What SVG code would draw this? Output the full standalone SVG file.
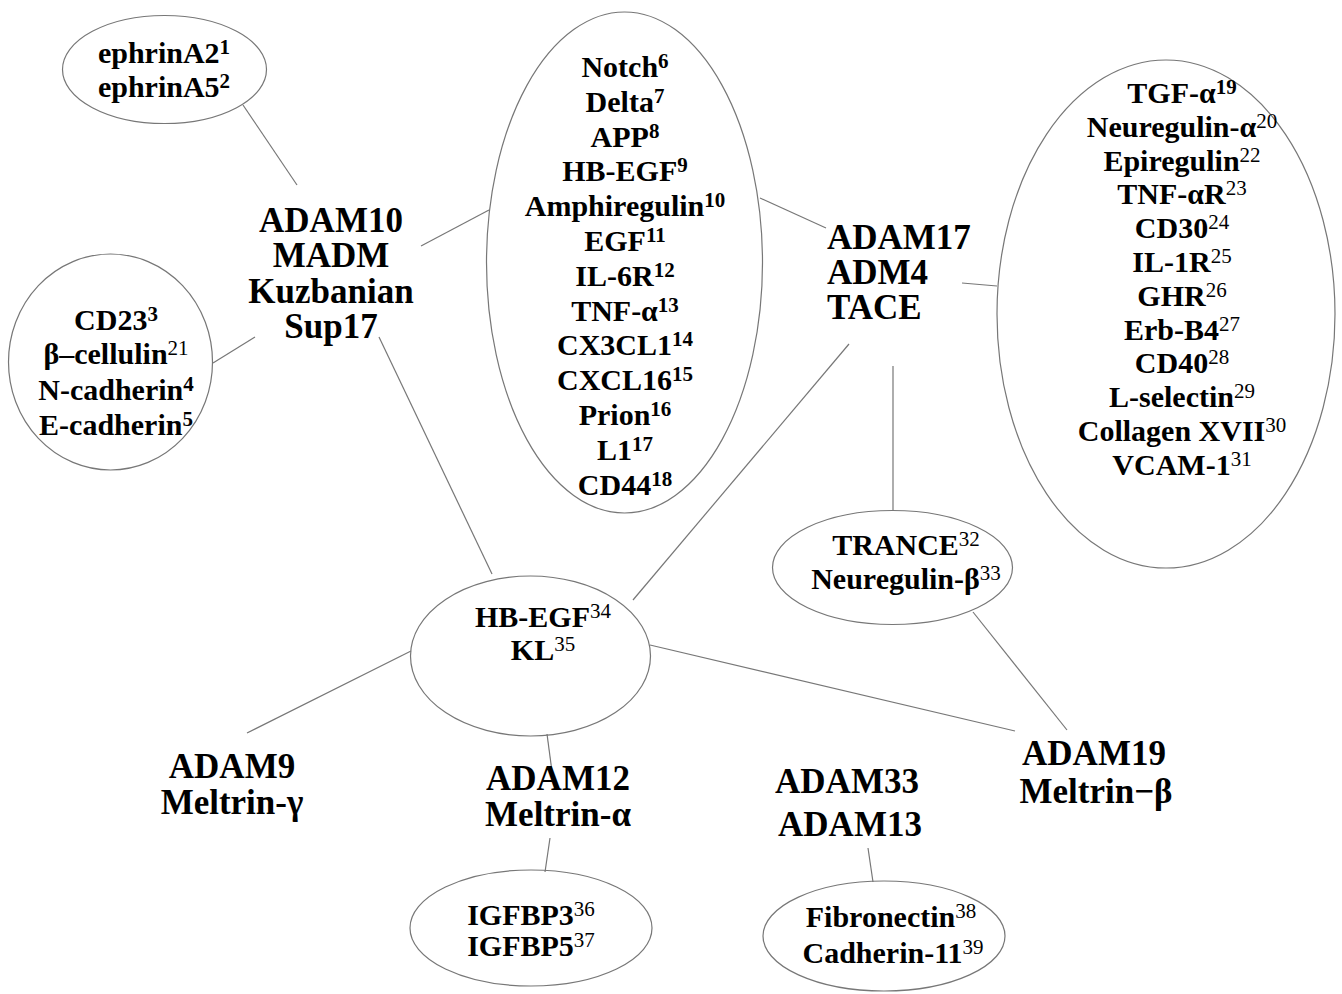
<svg xmlns="http://www.w3.org/2000/svg" width="1342" height="994" viewBox="0 0 1342 994">
<style>
.e{fill:none;stroke:#777;stroke-width:1.2}
.c line{stroke:#777;stroke-width:1.2}
text{font-family:"Liberation Serif","Times New Roman",serif;font-weight:bold;fill:#000;text-anchor:middle}
.s{font-size:30px}
.b{font-size:35px}
.sup{font-size:21px}
.n{font-weight:normal}
</style>
<rect width="1342" height="994" fill="#fff"/>
<g class="c" id="connectors">
<line x1="243" y1="105" x2="297" y2="185"/>
<line x1="213" y1="363" x2="255" y2="337"/>
<line x1="421" y1="246" x2="489" y2="210"/>
<line x1="379" y1="337" x2="492" y2="574"/>
<line x1="760" y1="198" x2="826" y2="228"/>
<line x1="962" y1="283" x2="997" y2="286"/>
<line x1="849" y1="344" x2="633" y2="600"/>
<line x1="893" y1="366" x2="893" y2="510"/>
<line x1="973" y1="612" x2="1067" y2="730"/>
<line x1="650" y1="645" x2="1015" y2="731"/>
<line x1="411" y1="651" x2="247" y2="733"/>
<line x1="547" y1="734" x2="553" y2="779"/>
<line x1="550" y1="838" x2="545" y2="872"/>
<line x1="868" y1="848" x2="873" y2="882"/>
</g>
<g id="ephrin">
<ellipse class="e" cx="164.5" cy="69.5" rx="102" ry="54"/>
<text class="s" x="164" y="63">ephrinA2<tspan class="sup" dy="-9">1</tspan></text>
<text class="s" x="164" y="97">ephrinA5<tspan class="sup" dy="-9">2</tspan></text>
</g>
<g id="cd23">
<ellipse class="e" cx="110.5" cy="362" rx="102" ry="108"/>
<text class="s" x="116" y="330">CD23<tspan class="sup" dy="-9">3</tspan></text>
<text class="s" x="116" y="364">β–cellulin<tspan class="sup n" dy="-9">21</tspan></text>
<text class="s" x="116" y="400">N-cadherin<tspan class="sup" dy="-9">4</tspan></text>
<text class="s" x="116" y="435">E-cadherin<tspan class="sup" dy="-9">5</tspan></text>
</g>
<g id="adam10">
<text class="b" x="331" y="232">ADAM10</text>
<text class="b" x="331" y="267">MADM</text>
<text class="b" x="331" y="303">Kuzbanian</text>
<text class="b" x="331" y="338">Sup17</text>
</g>
<g id="notch">
<ellipse class="e" cx="624.5" cy="262.5" rx="138" ry="250.5"/>
<text class="s" x="625" y="77">Notch<tspan class="sup" dy="-9">6</tspan></text>
<text class="s" x="625" y="111.8">Delta<tspan class="sup" dy="-9">7</tspan></text>
<text class="s" x="625" y="146.6">APP<tspan class="sup" dy="-9">8</tspan></text>
<text class="s" x="625" y="181.4">HB-EGF<tspan class="sup" dy="-9">9</tspan></text>
<text class="s" x="625" y="216.2">Amphiregulin<tspan class="sup" dy="-9">10</tspan></text>
<text class="s" x="625" y="251">EGF<tspan class="sup" dy="-9">11</tspan></text>
<text class="s" x="625" y="285.8">IL-6R<tspan class="sup" dy="-9">12</tspan></text>
<text class="s" x="625" y="320.6">TNF-α<tspan class="sup" dy="-9">13</tspan></text>
<text class="s" x="625" y="355.4">CX3CL1<tspan class="sup" dy="-9">14</tspan></text>
<text class="s" x="625" y="390.2">CXCL16<tspan class="sup" dy="-9">15</tspan></text>
<text class="s" x="625" y="425">Prion<tspan class="sup" dy="-9">16</tspan></text>
<text class="s" x="625" y="459.8">L1<tspan class="sup" dy="-9">17</tspan></text>
<text class="s" x="625" y="494.6">CD44<tspan class="sup" dy="-9">18</tspan></text>
</g>
<g id="adam17">
<text class="b" x="827" y="249" style="text-anchor:start">ADAM17</text>
<text class="b" x="827" y="284" style="text-anchor:start">ADM4</text>
<text class="b" x="827" y="319" style="text-anchor:start">TACE</text>
</g>
<g id="tgf">
<ellipse class="e" cx="1166" cy="314" rx="169" ry="254"/>
<text class="s" x="1182" y="103">TGF-α<tspan class="sup" dy="-9">19</tspan></text>
<text class="s" x="1182" y="136.8">Neuregulin-α<tspan class="sup n" dy="-9">20</tspan></text>
<text class="s" x="1182" y="170.6">Epiregulin<tspan class="sup n" dy="-9">22</tspan></text>
<text class="s" x="1182" y="204.4">TNF-αR<tspan class="sup n" dy="-9">23</tspan></text>
<text class="s" x="1182" y="238.2">CD30<tspan class="sup n" dy="-9">24</tspan></text>
<text class="s" x="1182" y="272">IL-1R<tspan class="sup n" dy="-9">25</tspan></text>
<text class="s" x="1182" y="305.8">GHR<tspan class="sup n" dy="-9">26</tspan></text>
<text class="s" x="1182" y="339.6">Erb-B4<tspan class="sup n" dy="-9">27</tspan></text>
<text class="s" x="1182" y="373.4">CD40<tspan class="sup n" dy="-9">28</tspan></text>
<text class="s" x="1182" y="407.2">L-selectin<tspan class="sup n" dy="-9">29</tspan></text>
<text class="s" x="1182" y="441">Collagen XVII<tspan class="sup n" dy="-9">30</tspan></text>
<text class="s" x="1182" y="474.8">VCAM-1<tspan class="sup n" dy="-9">31</tspan></text>
</g>
<g id="trance">
<ellipse class="e" cx="892.5" cy="567.5" rx="120" ry="57"/>
<text class="s" x="906" y="555">TRANCE<tspan class="sup n" dy="-9">32</tspan></text>
<text class="s" x="906" y="589">Neuregulin-β<tspan class="sup n" dy="-9">33</tspan></text>
</g>
<g id="hbegf">
<ellipse class="e" cx="530.5" cy="656" rx="120" ry="80"/>
<text class="s" x="543" y="627">HB-EGF<tspan class="sup n" dy="-9">34</tspan></text>
<text class="s" x="543" y="660">KL<tspan class="sup n" dy="-9">35</tspan></text>
</g>
<g id="adam9">
<text class="b" x="232" y="778">ADAM9</text>
<text class="b" x="232" y="814">Meltrin-γ</text>
</g>
<g id="adam12">
<text class="b" x="558" y="790">ADAM12</text>
<text class="b" x="558" y="826">Meltrin-α</text>
</g>
<g id="adam33">
<text class="b" x="847" y="793">ADAM33</text>
<text class="b" x="850" y="836">ADAM13</text>
</g>
<g id="adam19">
<text class="b" x="1094" y="765">ADAM19</text>
<text class="b" x="1096" y="803">Meltrin−β</text>
</g>
<g id="igfbp">
<ellipse class="e" cx="531" cy="928" rx="121" ry="58"/>
<text class="s" x="531" y="925">IGFBP3<tspan class="sup n" dy="-9">36</tspan></text>
<text class="s" x="531" y="956">IGFBP5<tspan class="sup n" dy="-9">37</tspan></text>
</g>
<g id="fibronectin">
<ellipse class="e" cx="884" cy="936" rx="121" ry="55"/>
<text class="s" x="891" y="927">Fibronectin<tspan class="sup n" dy="-9">38</tspan></text>
<text class="s" x="893" y="963">Cadherin-11<tspan class="sup n" dy="-9">39</tspan></text>
</g>
</svg>
